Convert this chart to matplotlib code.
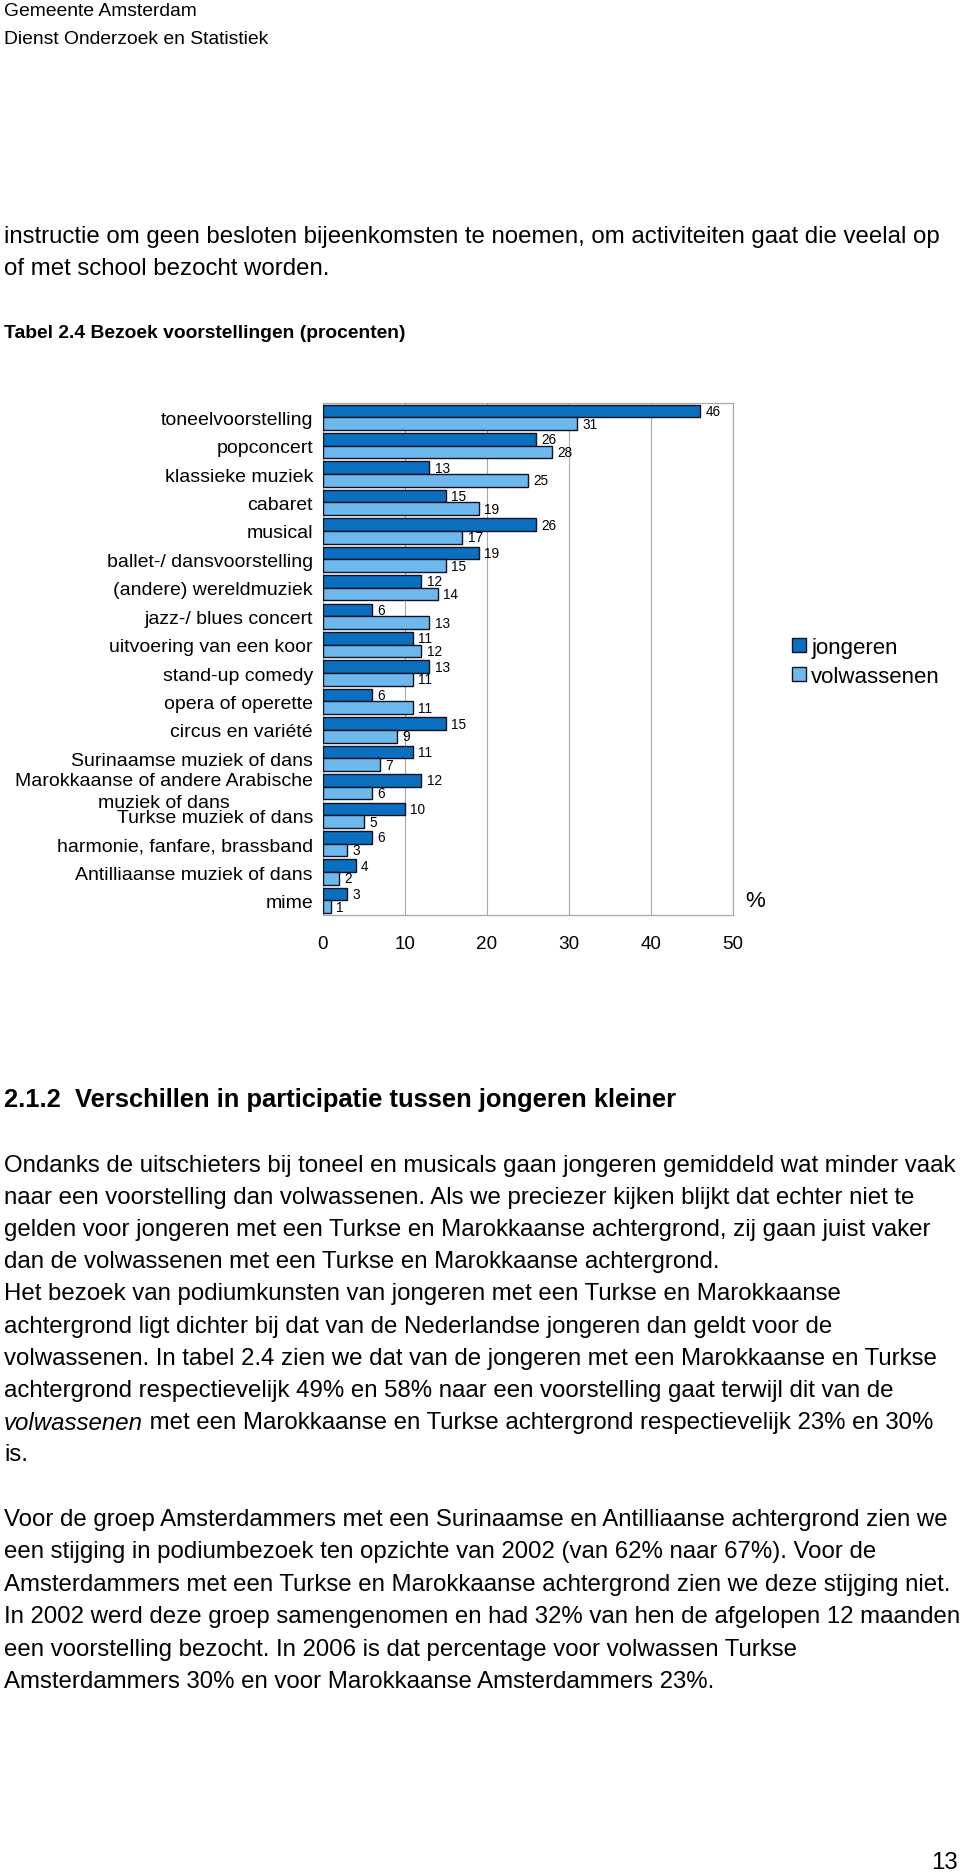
import matplotlib.pyplot as plt
import numpy as np

plt.rcParams['font.family'] = ['Liberation Sans', 'DejaVu Sans']

# chart data (Tabel 2.4, procenten)
categories = ['toneelvoorstelling', 'popconcert', 'klassieke muziek', 'cabaret',
              'musical', 'ballet-/ dansvoorstelling', '(andere) wereldmuziek',
              'jazz-/ blues concert', 'uitvoering van een koor', 'stand-up comedy',
              'opera of operette', 'circus en variété', 'Surinaamse muziek of dans',
              'Marokkaanse of andere Arabische\nmuziek of dans', 'Turkse muziek of dans',
              'harmonie, fanfare, brassband', 'Antilliaanse muziek of dans', 'mime']
jongeren = [46, 26, 13, 15, 26, 19, 12, 6, 11, 13, 6, 15, 11, 12, 10, 6, 4, 3]
volwassenen = [31, 28, 25, 19, 17, 15, 14, 13, 12, 11, 11, 9, 7, 6, 5, 3, 2, 1]
xticks = [0, 10, 20, 30, 40, 50]

# page text
header = ['Gemeente Amsterdam', 'Dienst Onderzoek en Statistiek']
intro = ['instructie om geen besloten bijeenkomsten te noemen, om activiteiten gaat die veelal op',
         'of met school bezocht worden.']
table_title = 'Tabel 2.4 Bezoek voorstellingen (procenten)'
section_title = '2.1.2  Verschillen in participatie tussen jongeren kleiner'
para1 = ['Ondanks de uitschieters bij toneel en musicals gaan jongeren gemiddeld wat minder vaak',
         'naar een voorstelling dan volwassenen. Als we preciezer kijken blijkt dat echter niet te',
         'gelden voor jongeren met een Turkse en Marokkaanse achtergrond, zij gaan juist vaker',
         'dan de volwassenen met een Turkse en Marokkaanse achtergrond.',
         'Het bezoek van podiumkunsten van jongeren met een Turkse en Marokkaanse',
         'achtergrond ligt dichter bij dat van de Nederlandse jongeren dan geldt voor de',
         'volwassenen. In tabel 2.4 zien we dat van de jongeren met een Marokkaanse en Turkse',
         'achtergrond respectievelijk 49% en 58% naar een voorstelling gaat terwijl dit van de']
italic_word = 'volwassenen'
italic_rest = ' met een Marokkaanse en Turkse achtergrond respectievelijk 23% en 30%'
para1_end = 'is.'
para2 = ['Voor de groep Amsterdammers met een Surinaamse en Antilliaanse achtergrond zien we',
         'een stijging in podiumbezoek ten opzichte van 2002 (van 62% naar 67%). Voor de',
         'Amsterdammers met een Turkse en Marokkaanse achtergrond zien we deze stijging niet.',
         'In 2002 werd deze groep samengenomen en had 32% van hen de afgelopen 12 maanden',
         'een voorstelling bezocht. In 2006 is dat percentage voor volwassen Turkse',
         'Amsterdammers 30% en voor Marokkaanse Amsterdammers 23%.']

W, H = 960, 1874
fig = plt.figure(figsize=(W / 100, H / 100), dpi=100)


def put(x, y, s, **kw):
    return fig.text(x / W, 1 - y / H, s, va='center', **kw)


body = 17.3
put(4, 12, header[0], size=13.9)
put(4, 39, header[1], size=13.9)
for i, line in enumerate(intro):
    put(4, 237 + 32 * i, line, size=body)
put(4, 334, table_title, size=13.9, weight='bold')
put(4, 1100, section_title, size=18.4, weight='bold')
for i, line in enumerate(para1):
    put(4, 1166 + 32.1 * i, line, size=body)
t = put(4, 1423, italic_word, size=body, style='italic')
ext = t.get_window_extent(fig.canvas.get_renderer())
put(ext.x1, 1423, italic_rest, size=body)
put(4, 1455, para1_end, size=body)
for i, line in enumerate(para2):
    put(4, 1520 + 32.4 * i, line, size=body)
put(958, 1863, '13', size=body, ha='right')

# chart
ax = fig.add_axes([322.7 / W, 1 - 915.7 / H, 410 / W, 511.7 / H])
y = np.arange(len(categories))
h = 0.445
dark, light = '#0B6FBF', '#6DB8EC'
b1 = ax.barh(y - h / 2, jongeren, height=h, color=dark, edgecolor='#111122',
             linewidth=1.0, label='jongeren', zorder=3)
b2 = ax.barh(y + h / 2, volwassenen, height=h, color=light, edgecolor='#111122',
             linewidth=1.0, label='volwassenen', zorder=3)
ax.bar_label(b1, padding=4, fontsize=9.8)
ax.bar_label(b2, padding=4, fontsize=9.8)

ax.set_xlim(0, 50)
ax.set_ylim(len(categories) - 0.5, -0.5)
ax.set_xticks(xticks)
ax.set_yticks(y)
ax.set_yticklabels(categories)
for lab in ax.get_yticklabels():
    lab.set_multialignment('center')
    lab.set_linespacing(1.4)
ax.tick_params(axis='y', length=0, pad=7, labelsize=14)
ax.tick_params(axis='x', length=0, pad=14.5, labelsize=13.6)
ax.grid(axis='x', color='#a8a8a8', linewidth=0.8, zorder=0)
for sp in ax.spines.values():
    sp.set_color('#a8a8a8')
    sp.set_linewidth(0.9)

ax.legend(loc='upper left', bbox_to_anchor=(792 / W, 1 - 638 / H),
          bbox_transform=fig.transFigure, frameon=False, fontsize=16,
          handlelength=0.62, handleheight=0.62, handletextpad=0.25,
          borderpad=0, borderaxespad=0, labelspacing=0.35)
put(745, 902, '%', size=16)

fig.savefig('out.png', dpi=100)
